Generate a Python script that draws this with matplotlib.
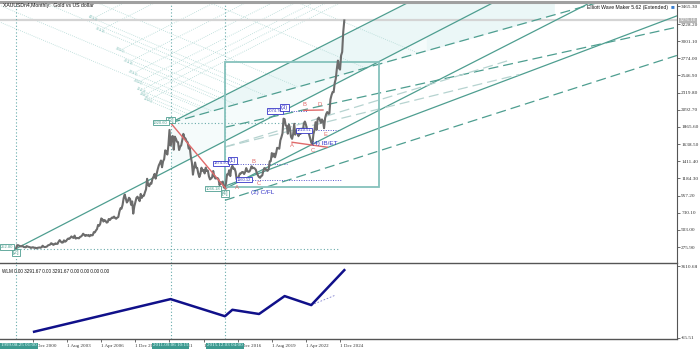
import matplotlib
matplotlib.use("Agg")
import matplotlib.pyplot as plt
import numpy as np
from matplotlib.patches import Rectangle

plt.rcParams['font.family'] = ['Liberation Sans', 'DejaVu Sans']

# ---------------- data ----------------
# month index = months since Jan 2000 (Aug 1999 = -5)
series_start = -5
gold_close = [
    255, 299, 300, 292, 288,                                            # 1999 Aug-Dec
    283, 293, 277, 274, 272, 288, 281, 277, 273, 264, 270, 273,         # 2000
    265, 267, 258, 264, 267, 270, 266, 273, 293, 279, 275, 277,         # 2001
    282, 297, 302, 308, 326, 318, 304, 312, 324, 317, 318, 347,         # 2002
    367, 348, 334, 336, 364, 346, 354, 375, 388, 384, 398, 416,         # 2003
    403, 396, 427, 388, 394, 395, 391, 408, 415, 428, 452, 438,         # 2004
    422, 435, 427, 435, 417, 436, 429, 433, 473, 470, 495, 513,         # 2005
    568, 556, 582, 654, 643, 613, 633, 623, 599, 604, 646, 632,         # 2006
    650, 665, 662, 679, 659, 650, 665, 673, 743, 789, 783, 834,         # 2007
    923, 971, 916, 865, 886, 928, 912, 834, 880, 718, 814, 869,         # 2008
    927, 942, 916, 883, 979, 926, 954, 955, 1001, 1040, 1179, 1096,     # 2009
    1081, 1118, 1113, 1179, 1207, 1244, 1181, 1248, 1307, 1357, 1386, 1421,  # 2010
    1332, 1411, 1439, 1556, 1536, 1500, 1628, 1826, 1620, 1714, 1746, 1564,  # 2011
    1737, 1710, 1669, 1664, 1560, 1604, 1622, 1692, 1774, 1719, 1713, 1675,  # 2012
    1663, 1579, 1595, 1472, 1394, 1234, 1323, 1396, 1326, 1323, 1250, 1202,  # 2013
    1244, 1326, 1284, 1296, 1250, 1327, 1282, 1287, 1210, 1171, 1182, 1199,  # 2014
    1283, 1212, 1183, 1184, 1190, 1172, 1095, 1134, 1115, 1142, 1064, 1061,  # 2015
    1118, 1238, 1233, 1293, 1215, 1321, 1351, 1309, 1316, 1273, 1173, 1151,  # 2016
    1211, 1249, 1249, 1268, 1268, 1242, 1269, 1321, 1280, 1271, 1275, 1303,  # 2017
    1345, 1318, 1325, 1315, 1299, 1253, 1224, 1201, 1192, 1215, 1222, 1282,  # 2018
    1321, 1313, 1292, 1284, 1305, 1409, 1413, 1520, 1472, 1513, 1464, 1517,  # 2019
    1589, 1585, 1577, 1687, 1730, 1781, 1975, 1968, 1886, 1879, 1776, 1898,  # 2020
    1848, 1734, 1708, 1769, 1907, 1763, 1814, 1814, 1743, 1783, 1774, 1829,  # 2021
    1797, 1909, 1937, 1897, 1837, 1807, 1766, 1711, 1660, 1633, 1768, 1824,  # 2022
    1928, 1827, 1969, 1990, 1963, 1919, 1965, 1940, 1849, 1983, 2036, 2063,  # 2023
    2039, 2044, 2230, 2286, 2327, 2326, 2447, 2503, 2635, 2744, 2643, 2625,  # 2024
    2812, 2858, 3124, 3276,                                                 # 2025 Jan-Apr
]

price_ticks = [3465.30, 3228.20, 3001.10, 2774.00, 2546.90, 2319.80, 2092.70, 1865.60,
               1638.50, 1411.40, 1184.30, 957.20, 730.10, 503.00, 275.90]
date_tick_months = [11, 43, 75, 107, 139, 171, 203, 235, 267, 299]
date_tick_labels = ["1 Dec 2000", "1 Aug 2003", "1 Apr 2006", "1 Dec 2008", "1 Aug 2011",
                    "1 Apr 2014", "1 Dec 2016", "1 Aug 2019", "1 Apr 2022", "1 Dec 2024"]
marker_months = [-5, 140, 191]
marker_labels = ["1999.08.25 01:00", "2011.09.06 10:15", "2015.12.03 04:00"]

bid_price = 3276.10

# indicator zigzag (WLM)
wlm_months = [12, 140, 191, 198, 223, 247, 272, 303]
wlm_values = [255, 1920.6, 1046.1, 1375, 1160, 2075, 1615, 3400]

# trend / channel lines: (m1, p1, m2, p2)
solid_lines = [(-5, 253, 442, 3506),        # from 1999 low
               (140, 1920.6, 362, 3506),    # from [3]
               (191, 1046, 533, 3506),      # from [4], parallel
               (193, 1092, 615, 3336)]      # from [4], flatter
dashed_lines = [(140, 1920.6, 615, 3806),   # [3] through box corner
                (191, 1861, 615, 3187),
                (191, 894, 615, 2812)]
light_dashed = [(191, 1600, 457, 2745),
                (191, 1600, 467, 2560)]

box_m = (191, 335.6)
box_p = (1068, 2721)

fib_levels = ["423.6", "361.8", "300.0", "261.8", "223.6", "200.0", "161.8", "138.2", "100.0"]
fib_m = [67.3, 73.9, 92.6, 100.1, 104.8, 109.5, 111.9, 114.7, 118.5]
fib_p = [3302, 3144, 2880, 2721, 2576, 2457, 2351, 2285, 2219]
time_marks_m = [169.5, 186.4, 208.0, 230.5, 278.4, 315.9]

red_lines = [(140, 1920.6, 192, 1046), (254, 1663, 287, 1597), (265, 2085, 283, 2090)]
red_letters = ["A", "B", "C", "A", "B", "C", "D", "E"]
red_m = [202.4, 218, 223, 254, 266, 273.7, 280, 285]
red_p = [1066, 1412, 1120, 1624, 2166, 1558, 2166, 1769]

# ---------------- figure ----------------
W, H = 700, 351
fig = plt.figure(figsize=(7.0, 3.51), dpi=100)
ax = fig.add_axes([0, 1 - 263 / H, 677 / W, (263 - 3) / H])
ax2 = fig.add_axes([0, 1 - 339 / H, 677 / W, (339 - 264) / H])

XMIN, XMAX = -20.0, 615.1
PMIN, PMAX = 64.1, 3506.5
ax.set_xlim(XMIN, XMAX)
ax.set_ylim(PMIN, PMAX)
ax2.set_xlim(XMIN, XMAX)
ax2.set_ylim(-116.6, 3712.8)

teal = '#4e9e90'
grid_c = '#b2d9d5'
blue = '#3535c8'
red = '#e06a6a'

def line_at(l, m):
    return l[1] + (l[3] - l[1]) / (l[2] - l[0]) * (m - l[0])

# shaded bands
L0 = solid_lines[1]
D1 = dashed_lines[0]
S1 = solid_lines[0]
mm = np.linspace(140, 500, 200)
ax.fill_between(mm, line_at(D1, mm), line_at(L0, mm), color='#ebf7f7', lw=0, zorder=0)
mm2 = np.linspace(140, 380, 100)
ax.fill_between(mm2, line_at(S1, mm2), line_at(D1, mm2), color='#f5fbfb', lw=0, zorder=0)

# dotted grid
k_down = -5.92
s0 = (L0[3] - L0[1]) / (L0[2] - L0[0])
sD = (D1[3] - D1[1]) / (D1[2] - D1[0])
for lab, m0, p0 in zip(fib_levels, fib_m, fib_p):
    m_end = m0 + (PMAX - p0) / s0
    ax.plot([m0, m_end], [p0, PMAX], color=grid_c, lw=0.6, ls=(0, (1, 1.5)), zorder=1)
    mi = (p0 - k_down * m0 - L0[1] + s0 * L0[0]) / (s0 - k_down)
    ax.plot([m0, mi], [p0, p0 + k_down * (mi - m0)], color=grid_c, lw=0.6, ls=(0, (1, 1.5)), zorder=1)
    ax.text(m0, p0, lab, fontsize=2.8, color='#8cc4be', rotation=-25, ha='center', va='center', zorder=2)
for m0 in time_marks_m:
    p0 = line_at(L0, m0)
    m_top = m0 - (PMAX - p0) / (-k_down)
    mi = (p0 - k_down * m0 - D1[1] + sD * D1[0]) / (sD - k_down)
    ax.plot([m_top, mi], [PMAX, p0 + k_down * (mi - m0)], color=grid_c, lw=0.6, ls=(0, (1, 1.5)), zorder=1)

# bid line
ax.axhline(bid_price, color='#d4d4d4', lw=1.6, zorder=1)

# horizontal dotted levels
ax.plot([XMIN, 299], [253, 253], color='#6aaaaa', lw=0.8, ls=(0, (1, 2)), zorder=2)
ax.plot([140, 265], [1920.6, 1920.6], color='#6aaaaa', lw=0.8, ls=(0, (1, 2)), zorder=2)
for (m1, m2, p) in [(194, 249, 1375), (210, 300, 1165), (248, 268, 2075), (278, 299, 1821)]:
    ax.plot([m1, m2], [p, p], color='#5555cc', lw=0.7, ls=(0, (1, 1.5)), zorder=2)

# vertical markers
for m in marker_months:
    for a in (ax, ax2):
        a.axvline(m, color='#66aaaa', lw=0.8, ls=(0, (1, 2)), zorder=2)

# channel lines
for l in solid_lines:
    ax.plot([l[0], l[2]], [l[1], l[3]], color=teal, lw=0.9, zorder=3)
for l in dashed_lines:
    ax.plot([l[0], l[2]], [l[1], l[3]], color=teal, lw=0.9, ls=(0, (8, 4)), zorder=3)
for l in light_dashed:
    ax.plot([l[0], l[2]], [l[1], l[3]], color='#b6d3d0', lw=0.9, ls=(0, (8, 4)), zorder=3)

# rectangle
ax.add_patch(Rectangle((box_m[0], box_p[0]), box_m[1] - box_m[0], box_p[1] - box_p[0],
                       fill=False, ec='#86c2bc', lw=1.3, zorder=3))

# price
months = series_start + np.arange(len(gold_close))
ax.plot(months, gold_close, color='#6c6c6c', lw=1.5, zorder=4)

# red wave lines
for l in red_lines:
    ax.plot([l[0], l[2]], [l[1], l[3]], color=red, lw=1.0, zorder=5)
for t, m, p in zip(red_letters, red_m, red_p):
    ax.text(m, p, t, color=red, fontsize=4.2, ha='center', va='center', zorder=6)

# boxed labels
def tbox(m, p, s, ha='center', ec=teal, tc=teal, fs=3.8):
    ax.text(m, p, s, color=tc, fontsize=fs, ha=ha, va='center', zorder=7,
            bbox=dict(boxstyle='square,pad=0.15', fc='white', ec=ec, lw=0.6))

tbox(-5, 200, "[2]", fs=4.2)
tbox(140, 1957, "[3]", fs=4.2)
tbox(191, 985, "[4]", fs=4.2)
tbox(-19.5, 276, "252.80", ha='left', fs=3.0)
tbox(137.5, 1920, "1920.60", ha='right', fs=3.0)
tbox(186.4, 1046, "1046.18", ha='right', fs=3.0)
tbox(194, 1386, "1374.90", ha='right', ec=blue, tc=blue, fs=3.0)
tbox(202.4, 1165, "1160.12", ha='left', ec=blue, tc=blue, fs=3.0)
tbox(244.6, 2075, "2074.76", ha='right', ec=blue, tc=blue, fs=3.0)
tbox(258.7, 1821, "1810.51", ha='left', ec=blue, tc=blue, fs=3.0)
tbox(197.7, 1424, "(1)", ec=blue, tc=blue, fs=4.2)
tbox(247, 2126, "(3)", ec=blue, tc=blue, fs=4.2)
ax.text(226, 1000, "(2) C/FL", color=blue, fontsize=4.6, ha='center', va='center', zorder=7)
ax.text(285, 1650, "(4) IB/ET", color=blue, fontsize=4.6, ha='center', va='center', zorder=7)

# axes styling
for a in (ax, ax2):
    for s in ('left', 'top'):
        a.spines[s].set_visible(False)
    a.spines['right'].set_color('#555555')
    a.spines['bottom'].set_color('#555555')
    a.spines['right'].set_linewidth(0.8)
    a.spines['bottom'].set_linewidth(1.0)
    a.yaxis.tick_right()
    a.set_facecolor('none')

ax.set_xticks([])
ax.set_yticks(price_ticks)
ax.set_yticklabels([f"{v:.2f}" for v in price_ticks], fontsize=3.8, family='Liberation Serif')
ax.tick_params(axis='y', length=2, pad=1, colors='#333333', width=0.5)

ax2.set_yticks([3610.68, -65.51])
ax2.set_yticklabels(["3610.68", "-65.51"], fontsize=3.8, family='Liberation Serif')
ax2.tick_params(axis='y', length=2, pad=1, colors='#333333', width=0.5)
ax2.set_xticks(date_tick_months)
ax2.set_xticklabels(date_tick_labels, fontsize=3.6, family='Liberation Serif', ha='left')
ax2.tick_params(axis='x', length=2, pad=1.5, colors='#333333', width=0.5)

# indicator
ax2.plot(wlm_months, wlm_values, color='#10108a', lw=1.8, zorder=4)
ax2.plot([272, 295], [1615, 2130], color='#7a7acc', lw=0.6, ls=(0, (2, 2)), zorder=3)
ax2.text(0.003, 0.93, "WLM 0.00 3291.67 0.00 3291.67 0.00 0.00 0.00 0.00", transform=ax2.transAxes,
         fontsize=3.3, ha='left', va='top', color='#111111')

# highlighted time labels on axis
for i, (m, s) in enumerate(zip(marker_months, marker_labels)):
    if i == 0:
        xy, xyc, ha = (0, 0), 'axes fraction', 'left'
        off = (1, -6.5)
    else:
        xy, xyc, ha = (m, 0), ('data', 'axes fraction'), 'center'
        off = (0, -6.5)
    ax2.annotate(s, xy=xy, xycoords=xyc, xytext=off,
                 textcoords='offset pixels', ha=ha, va='center', fontsize=3.6,
                 family='Liberation Serif', color='#e8ffff', zorder=10, annotation_clip=False,
                 bbox=dict(boxstyle='square,pad=0.2', fc='#3d9a90', ec='none'))

# bid highlight on price axis
ax.annotate(f"{bid_price:.2f}", xy=(1, bid_price), xycoords=('axes fraction', 'data'),
            xytext=(3, 0), textcoords='offset pixels', ha='left', va='center', fontsize=3.6,
            family='Liberation Serif', color='white', annotation_clip=False,
            bbox=dict(boxstyle='square,pad=0.15', fc='#b8b8b8', ec='none'))

# headers
fig.text(3 / W, 1 - 6 / H, "XAUUSDn4,Monthly:  Gold vs US dollar", fontsize=3.7, ha='left', va='center',
         color='#111111')
fig.text(668 / W, 1 - 7 / H, "Elliott Wave Maker 5.62 (Extended)", fontsize=3.7, ha='right', va='center',
         color='#111111')
fig.text(671 / W, 1 - 7 / H, "\u25a0", fontsize=4.5, ha='left', va='center', color='#3a7fd0')
fig.add_artist(plt.Line2D([0, 1], [1 - 1.5 / H, 1 - 1.5 / H], color='#a0a0a0', lw=2.2))

fig.savefig("out.png", dpi=100, facecolor='white')
